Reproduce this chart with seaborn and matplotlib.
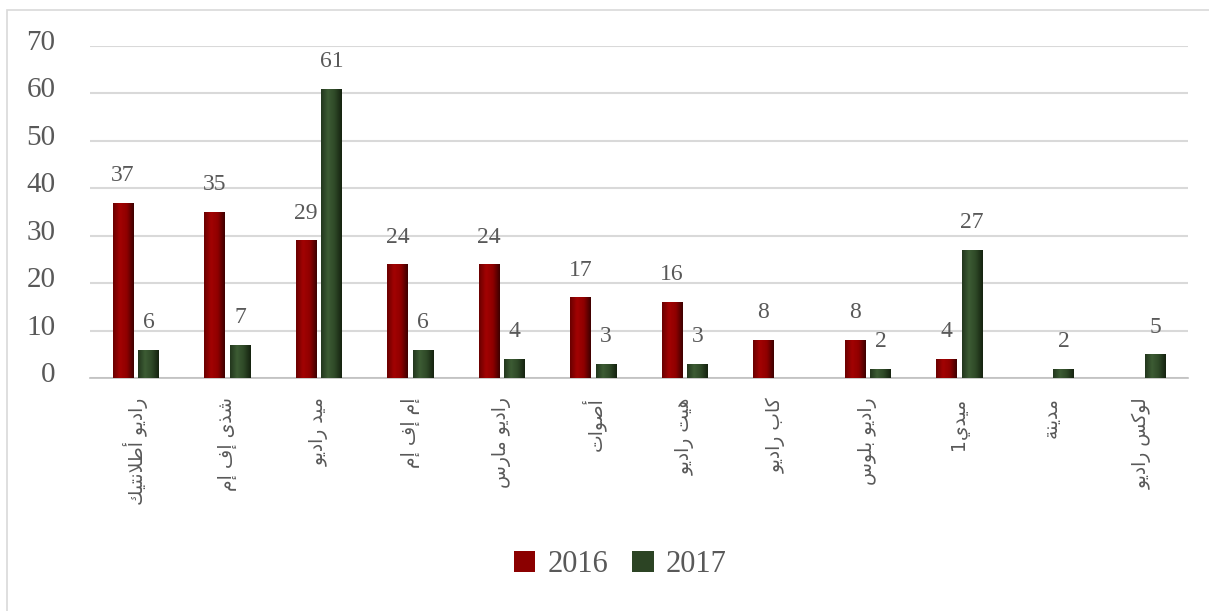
import numpy as np
import pandas as pd
import matplotlib
matplotlib.use("Agg")
import matplotlib.pyplot as plt
from matplotlib.colors import LinearSegmentedColormap
from matplotlib.patches import Rectangle
from matplotlib.transforms import offset_copy
import seaborn as sns

# ---------------- data ----------------
stations = ["راديو أطلانتيك", "شذى إف إم", "ميد راديو", "إم إف إم", "راديو مارس",
            "أصوات", "هيت راديو", "كاب راديو", "راديو بلوس", "ميدي1", "مدينة", "لوكس راديو"]
values_2016 = [37, 35, 29, 24, 24, 17, 16, 8, 8, 4, np.nan, np.nan]
values_2017 = [6, 7, 61, 6, 4, 3, 3, np.nan, 2, 27, 2, 5]
years = ["2016", "2017"]
y_ticks = [0, 10, 20, 30, 40, 50, 60, 70]

# ------------- minimal Arabic shaping (matplotlib has no bidi/shaping) -------------
FORMS = {  # isolated, final, initial, medial
    'ا': ('\uFE8D', '\uFE8E', None, None), 'أ': ('\uFE83', '\uFE84', None, None),
    'إ': ('\uFE87', '\uFE88', None, None), 'ب': ('\uFE8F', '\uFE90', '\uFE91', '\uFE92'),
    'ة': ('\uFE93', '\uFE94', None, None), 'ت': ('\uFE95', '\uFE96', '\uFE97', '\uFE98'),
    'د': ('\uFEA9', '\uFEAA', None, None), 'ذ': ('\uFEAB', '\uFEAC', None, None),
    'ر': ('\uFEAD', '\uFEAE', None, None), 'س': ('\uFEB1', '\uFEB2', '\uFEB3', '\uFEB4'),
    'ش': ('\uFEB5', '\uFEB6', '\uFEB7', '\uFEB8'), 'ص': ('\uFEB9', '\uFEBA', '\uFEBB', '\uFEBC'),
    'ط': ('\uFEC1', '\uFEC2', '\uFEC3', '\uFEC4'), 'ف': ('\uFED1', '\uFED2', '\uFED3', '\uFED4'),
    'ك': ('\uFED9', '\uFEDA', '\uFEDB', '\uFEDC'), 'ل': ('\uFEDD', '\uFEDE', '\uFEDF', '\uFEE0'),
    'م': ('\uFEE1', '\uFEE2', '\uFEE3', '\uFEE4'), 'ن': ('\uFEE5', '\uFEE6', '\uFEE7', '\uFEE8'),
    'ه': ('\uFEE9', '\uFEEA', '\uFEEB', '\uFEEC'), 'و': ('\uFEED', '\uFEEE', None, None),
    'ى': ('\uFEEF', '\uFEF0', None, None), 'ي': ('\uFEF1', '\uFEF2', '\uFEF3', '\uFEF4'),
}
LAMALEF = {'ا': ('\uFEFB', '\uFEFC'), 'أ': ('\uFEF7', '\uFEF8'), 'إ': ('\uFEF9', '\uFEFA')}


def dual(c):
    return c in FORMS and FORMS[c][2] is not None


def shape_ar(text):
    out = []
    i = 0
    n = len(text)
    while i < n:
        c = text[i]
        if c not in FORMS:
            out.append(c)
            i += 1
            continue
        prev = text[i - 1] if i > 0 else ''
        join_prev = dual(prev)
        if c == 'ل' and i + 1 < n and text[i + 1] in LAMALEF:
            iso, fin = LAMALEF[text[i + 1]]
            out.append(fin if join_prev else iso)
            i += 2
            continue
        nxt = text[i + 1] if i + 1 < n else ''
        join_next = dual(c) and nxt in FORMS
        iso, fin, ini, med = FORMS[c]
        if join_prev and join_next:
            out.append(med)
        elif join_prev:
            out.append(fin)
        elif join_next:
            out.append(ini)
        else:
            out.append(iso)
        i += 1
    return ''.join(out[::-1])


df = pd.DataFrame({
    "station": stations * 2,
    "year": [years[0]] * len(stations) + [years[1]] * len(stations),
    "value": values_2016 + values_2017,
})

# ---------------- figure ----------------
sns.set_theme(style="white")
plt.rcParams['font.family'] = ['Liberation Serif', 'DejaVu Sans']

fig = plt.figure(figsize=(12.09, 6.11), dpi=100)
ax = fig.add_axes([90 / 1209, 1 - 378 / 611, 1098 / 1209, 332 / 611])

palette = {"2016": "#8b0000", "2017": "#2c4424"}
sns.barplot(data=df, x="station", y="value", hue="year", order=stations,
            hue_order=years, palette=palette, width=0.56, gap=0.2,
            saturation=1, errorbar=None, ax=ax, zorder=3, linewidth=0)

# bevelled gradient fill clipped to each bar
cmaps = {
    "2016": LinearSegmentedColormap.from_list("r", ["#6a0000", "#a30303", "#8f0000", "#3d0000"]),
    "2017": LinearSegmentedColormap.from_list("g", ["#22361d", "#3d5c34", "#2e4827", "#15220f"]),
}
for cont, yr in zip(ax.containers, years):
    for bar in cont:
        h = bar.get_height()
        if not np.isfinite(h) or h == 0:
            continue
        x0, w = bar.get_x(), bar.get_width()
        grad = np.linspace(0, 1, 64).reshape(1, -1)
        im = ax.imshow(grad, cmap=cmaps[yr], aspect='auto', extent=(x0, x0 + w, 0, h),
                       zorder=3.5, interpolation='bicubic')
        im.set_clip_path(bar)
    ax.bar_label(cont, labels=[("" if not np.isfinite(b.get_height()) else f"{b.get_height():.0f}")
                               for b in cont],
                 padding=12, fontsize=17, color="#595959", family="Liberation Serif")

ax.set_xlim(-0.5, len(stations) - 0.5)
ax.set_ylim(0, 70)
ax.set_yticks(y_ticks)
ax.set_yticklabels([str(t) for t in y_ticks], fontsize=21, color="#595959")
ax.tick_params(axis='y', length=0, pad=25)
for lbl in ax.get_yticklabels():
    lbl.set_transform(offset_copy(lbl.get_transform(), fig=fig, x=0, y=6, units='dots'))

ax.set_xticks(range(len(stations)))
ax.set_xticklabels([shape_ar(s) for s in stations], rotation=90, fontsize=13.5,
                   color="#595959", family="DejaVu Sans", va='top', ha='center')
ax.tick_params(axis='x', length=0, pad=14)
ax.set_xlabel("")
ax.set_ylabel("")

ax.yaxis.grid(True, color="#d9d9d9", linewidth=1.5, zorder=0)
ax.set_axisbelow(True)
for s in ["left", "right", "top"]:
    ax.spines[s].set_visible(False)
ax.spines["bottom"].set_color("#bfbfbf")
ax.spines["bottom"].set_linewidth(1.2)

sns.move_legend(ax, "center", bbox_to_anchor=(0.483, -0.563), ncol=2, frameon=False,
                title=None, fontsize=22, handlelength=0.7, handleheight=0.7,
                columnspacing=0.8, handletextpad=0.4, labelcolor="#595959")

# outer chart border
fig.add_artist(Rectangle((7 / 1209, -0.1), 1.2, (1 - 10 / 611) + 0.1, transform=fig.transFigure,
                         fill=False, edgecolor="#d9d9d9", linewidth=1.2))

fig.savefig("out.png", dpi=100, facecolor="white")
